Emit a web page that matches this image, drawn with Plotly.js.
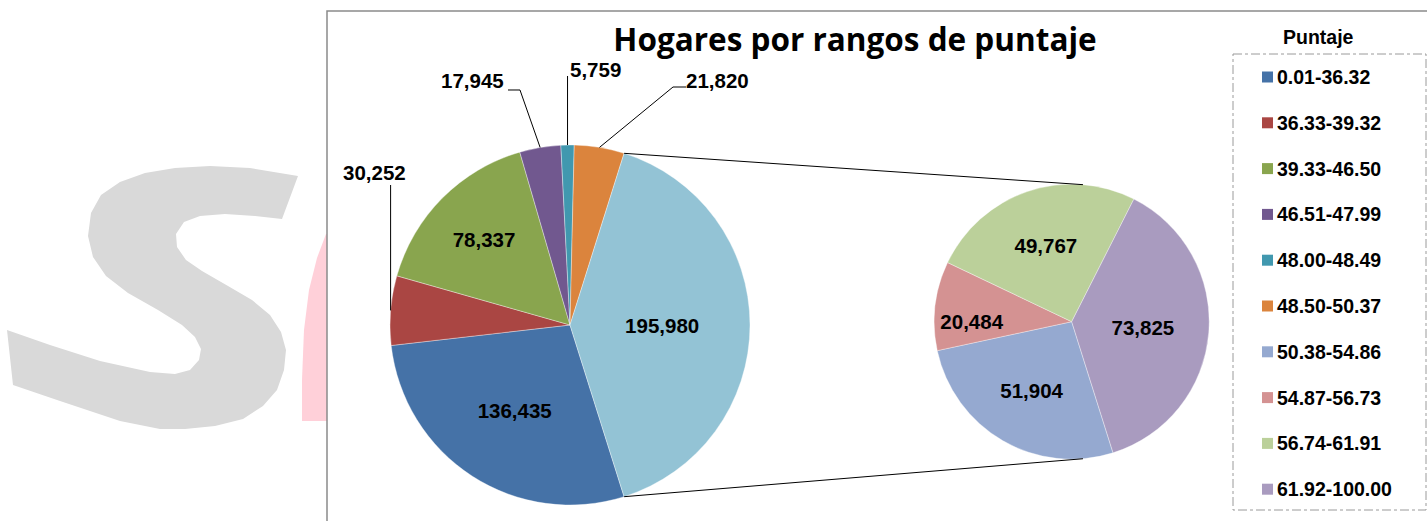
<!DOCTYPE html>
<html>
<head>
<meta charset="utf-8">
<script src="https://cdn.plot.ly/plotly-3.0.1.min.js"></script>
<style>html,body{margin:0;padding:0;background:#fff;}#chart{width:1427px;height:521px;}</style>
</head>
<body>
<div id="chart"></div>
<script>
// ---------------- DATA ----------------
const mainLabels = ['0.01-36.32','36.33-39.32','39.33-46.50','46.51-47.99','48.00-48.49','48.50-50.37','Otros'];
const mainValues = [136435, 30252, 78337, 17945, 5759, 21820, 195980];
const secLabels  = ['50.38-54.86','54.87-56.73','56.74-61.91','61.92-100.00'];
const secValues  = [51904, 20484, 49767, 73825];
const legendLabels = ['0.01-36.32','36.33-39.32','39.33-46.50','46.51-47.99','48.00-48.49','48.50-50.37','50.38-54.86','54.87-56.73','56.74-61.91','61.92-100.00'];
const titleText = 'Hogares por rangos de puntaje';
const legendTitle = 'Puntaje';

// ---------------- STYLE / LAYOUT ----------------
const mainColors = ['#4572A7','#AA4643','#89A54E','#71588F','#4198AF','#DB843D','#93C3D5'];
const secColors  = ['#95A9D0','#D49292','#BBD09A','#A99BBF'];
const legendColors = ['#4572A7','#AA4643','#89A54E','#71588F','#4198AF','#DB843D','#95A9D0','#D49292','#BBD09A','#A99BBF'];
const mainTextPos = ['inside','none','inside','none','none','none','inside'];
const W = 1427, H = 521;
const px = x => x / W, py = y => 1 - y / H;
const M = {cx: 570, cy: 325, r: 180};
const S = {cx: 1071.7, cy: 321.7, r: 137.5};
const fontA = 'Liberation Sans, Arial, sans-serif';
const labelSize = 20.5, legendSize = 19.5;

const total = mainValues.reduce((a, b) => a + b, 0);
const otherAngle = 360 * mainValues[mainValues.length - 1] / total;
const rot = 90 + otherAngle / 2;   // first slice starts at the lower end of "Otros"

function edge(c, deg, k) {
  const a = deg * Math.PI / 180, rr = c.r * (k || 1);
  return [c.cx + rr * Math.sin(a), c.cy - rr * Math.cos(a)];
}
function midAngle(idx) {
  let s = rot;
  for (let i = 0; i < idx; i++) s += 360 * mainValues[i] / total;
  return s + 180 * mainValues[idx] / total;
}
function pathPx(pts, close) {
  return pts.map((p, i) => (i ? 'L' : 'M') + px(p[0]).toFixed(5) + ',' + py(p[1]).toFixed(5)).join(' ') + (close ? ' Z' : '');
}
const fmt = v => v.toLocaleString('en-US');

const shapes = [];
// watermark "S"
const sPts = [[298,176],[282,219],[255,216],[225,214],[200,216],[184,222],[176,234],[177,247],[186,260],[202,271],
  [228,286],[252,300],[270,315],[281,332],[286,350],[284,370],[277,390],[263,406],[243,419],[215,426],[185,429],[160,429],
  [120,421],[60,401],[13,385],[7,330],[50,345],[100,361],[150,372],[175,374],[190,370],[199,360],[201,349],[195,337],[182,325],
  [158,310],[128,293],[106,276],[93,257],[88,236],[91,213],[101,195],[120,182],[145,173],[175,168],[210,166],[250,168]];
shapes.push({type:'path', xref:'paper', yref:'paper', path: pathPx(sPts, true), fillcolor:'#d9d9d9', line:{width:0}, layer:'below'});
const pinkPts = [[302,421],[302,380],[304,330],[309,290],[317,258],[326,234],[330,234],[330,421]];
shapes.push({type:'path', xref:'paper', yref:'paper', path: pathPx(pinkPts, true), fillcolor:'#ffd0d9', line:{width:0}, layer:'below'});
// chart frame
shapes.push({type:'rect', xref:'paper', yref:'paper', x0:px(327), x1:px(1460), y0:py(11), y1:py(560),
  fillcolor:'#ffffff', line:{color:'#8a8a8a', width:1.5}, layer:'below'});
// connectors between pies
const c1 = edge(M, rot - otherAngle), c2 = edge(M, rot);
const s1 = edge(S, 4.7), s2 = edge(S, 175.3);
shapes.push({type:'path', xref:'paper', yref:'paper', path: pathPx([c1, s1]), line:{color:'#000', width:1}});
shapes.push({type:'path', xref:'paper', yref:'paper', path: pathPx([c2, s2]), line:{color:'#000', width:1}});

// outside labels with leader lines
const outside = [
  {idx:1, lx:374, ly:172, path: e => [[e[0], 185], e]},
  {idx:3, lx:472, ly:80,  path: e => [[508, 90], [520, 90], e]},
  {idx:4, lx:595, ly:69,  path: e => [[e[0], 76], e]},
  {idx:5, lx:718, ly:80,  path: e => [[686, 87], [673, 87], e]}
];
const annotations = [];
outside.forEach(o => {
  const e = edge(M, midAngle(o.idx));
  shapes.push({type:'path', xref:'paper', yref:'paper', path: pathPx(o.path(e)), line:{color:'#000', width:1}});
  annotations.push({xref:'paper', yref:'paper', x:px(o.lx), y:py(o.ly), xanchor:'center', yanchor:'middle',
    text: fmt(mainValues[o.idx]), showarrow:false, font:{family:fontA, size:labelSize, color:'#000', weight:'bold'}});
});

// legend (custom)
shapes.push({type:'rect', xref:'paper', yref:'paper', x0:px(1233), x1:px(1426), y0:py(54), y1:py(510),
  line:{color:'#9a9a9a', width:1, dash:'dashdot'}, fillcolor:'rgba(0,0,0,0)'});
annotations.push({xref:'paper', yref:'paper', x:px(1318), y:py(37), xanchor:'center', yanchor:'middle',
  text: legendTitle, showarrow:false, font:{family:fontA, size:legendSize, color:'#000', weight:'bold'}});
legendLabels.forEach((lab, i) => {
  const yc = 77 + i * 45.8;
  shapes.push({type:'rect', xref:'paper', yref:'paper', x0:px(1262), x1:px(1273), y0:py(yc - 5.5), y1:py(yc + 5.5),
    fillcolor: legendColors[i], line:{width:0}});
  annotations.push({xref:'paper', yref:'paper', x:px(1275), y:py(yc), xanchor:'left', yanchor:'middle',
    text: lab, showarrow:false, font:{family:fontA, size:legendSize, color:'#000', weight:'bold'}});
});

const textFont = {family:fontA, size:labelSize, color:'#000', weight:'bold'};
const traces = [
  {type:'pie', labels: mainLabels, values: mainValues, sort:false, direction:'clockwise', rotation: rot,
   domain:{x:[px(M.cx - M.r), px(M.cx + M.r)], y:[py(M.cy + M.r), py(M.cy - M.r)]},
   marker:{colors: mainColors, line:{color:'rgba(255,255,255,0.6)', width:0.6}},
   texttemplate:'%{value:,}', textposition: mainTextPos, insidetextorientation:'horizontal',
   textfont: textFont, insidetextfont: textFont, hoverinfo:'skip', showlegend:false},
  {type:'pie', labels: secLabels, values: secValues, sort:false, direction:'clockwise', rotation: rot,
   domain:{x:[px(S.cx - S.r), px(S.cx + S.r)], y:[py(S.cy + S.r), py(S.cy - S.r)]},
   marker:{colors: secColors, line:{color:'rgba(255,255,255,0.6)', width:0.6}},
   texttemplate:'%{value:,}', textposition:'inside', insidetextorientation:'horizontal',
   textfont: textFont, insidetextfont: textFont, hoverinfo:'skip', showlegend:false}
];

const layout = {
  width: W, height: H, margin:{l:0, r:0, t:0, b:0}, paper_bgcolor:'#ffffff', plot_bgcolor:'#ffffff',
  showlegend:false,
  title:{text: titleText, x: px(855), xanchor:'center', y: py(40), yanchor:'middle',
         font:{family:'Open Sans, Lato, sans-serif', size:31.5, color:'#000', weight:'bold'}},
  shapes: shapes, annotations: annotations
};
Plotly.newPlot('chart', traces, layout, {staticPlot:true});
</script>
</body>
</html>
